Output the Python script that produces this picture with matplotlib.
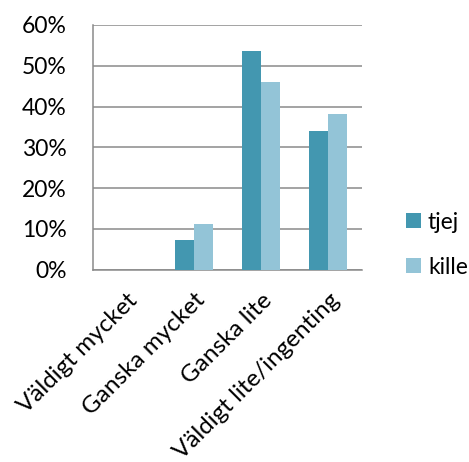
import matplotlib.pyplot as plt
import numpy as np
from matplotlib.ticker import PercentFormatter

categories = ['Väldigt mycket', 'Ganska mycket', 'Ganska lite', 'Väldigt lite/ingenting']
tjej = [0.0, 7.2, 53.5, 34.0]
kille = [0.0, 11.3, 46.0, 38.3]
y_ticks = [0, 10, 20, 30, 40, 50, 60]

plt.rcParams['font.family'] = ['Lato', 'DejaVu Sans']
fs = 16.5

fig = plt.figure(figsize=(4.69, 4.62), dpi=100)
ax = fig.add_axes([0.198, 0.416, 0.574, 0.53])

x = np.arange(len(categories))
w = 0.283
b1 = ax.bar(x - w / 2, tjej, width=w, color='#4397B0', label='tjej', zorder=3)
b2 = ax.bar(x + w / 2, kille, width=w, color='#93C4D7', label='kille', zorder=3)

ax.set_xlim(-0.5, len(categories) - 0.5)
ax.set_ylim(0, 60)
ax.set_yticks(y_ticks)
ax.yaxis.set_major_formatter(PercentFormatter(decimals=0))
ax.grid(axis='y', color='#8a8a8a', linewidth=1.1, zorder=0)
ax.set_axisbelow(True)

for s in ['top', 'right']:
    ax.spines[s].set_visible(False)
for s in ['left', 'bottom']:
    ax.spines[s].set_color('#8a8a8a')
    ax.spines[s].set_linewidth(1.1)

ax.tick_params(axis='both', length=0, labelsize=fs, colors='black')
ax.tick_params(axis='y', pad=19)
ax.set_xticks(x)
ax.set_xticklabels(categories, rotation=45, ha='right', va='top',
                   rotation_mode='anchor', fontsize=17.5)
ax.tick_params(axis='x', pad=14)

# legend to the right of the plot
fig.legend(handles=[b1, b2], loc='center left', bbox_to_anchor=(0.822, 0.470),
           frameon=False, fontsize=fs, handlelength=0.65, handleheight=0.65,
           handletextpad=0.3, labelspacing=1.05)

fig.savefig('out.png', dpi=100)
